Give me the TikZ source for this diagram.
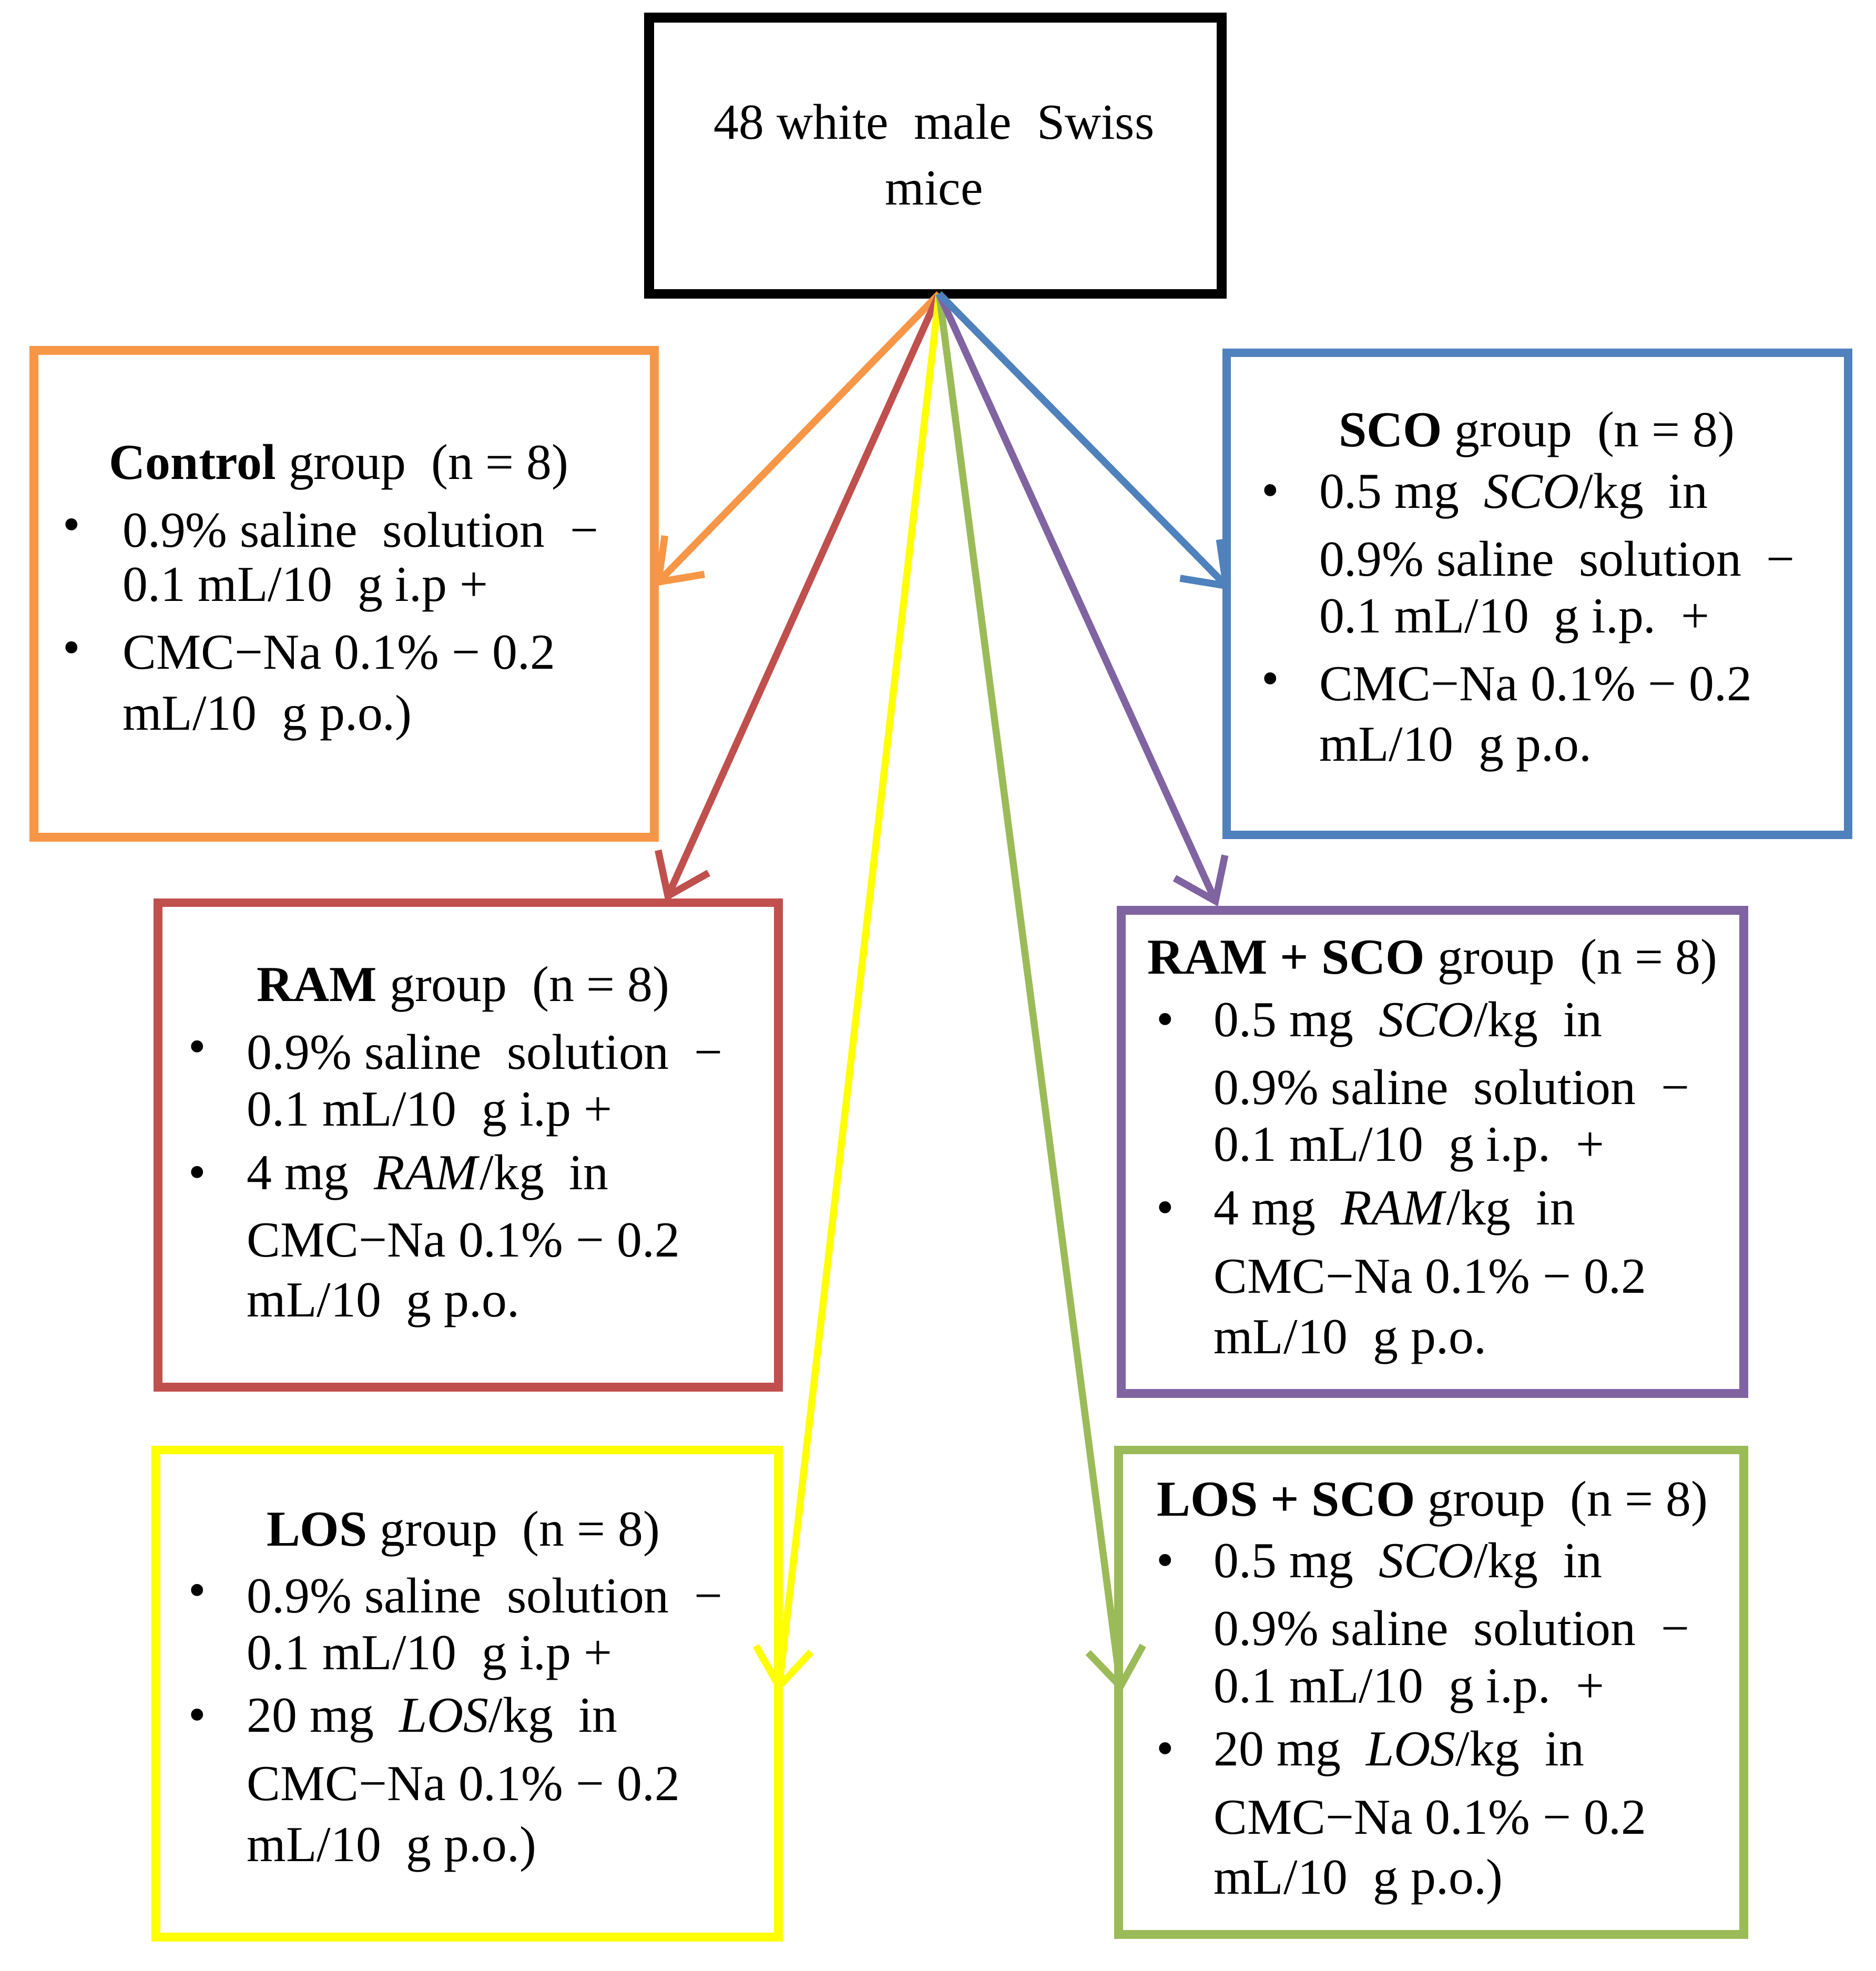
\documentclass[tikz,border=0pt]{standalone}
\usepackage{fontspec}
\setmainfont{Liberation Serif}
\usetikzlibrary{arrows.meta}
\definecolor{cOr}{HTML}{F79646}
\definecolor{cBl}{HTML}{4F81BD}
\definecolor{cRe}{HTML}{C0504D}
\definecolor{cPu}{HTML}{8064A2}
\definecolor{cYe}{HTML}{FFFF00}
\definecolor{cGr}{HTML}{9BBB59}
\tikzset{
 box/.style={draw, fill=white},
 conn/.style={line width=1.6pt, -{Straight Barb[length=3mm,width=4.4mm,line width=1.6pt]}},
 tx/.style={anchor=west, inner sep=0, font=\fontsize{11.4}{14}\selectfont},
 tt/.style={anchor=center, inner sep=0, font=\fontsize{11.4}{14}\selectfont},
 bu/.style={anchor=center, inner sep=0, font=\fontsize{11.4}{14}\selectfont},
}
\begin{document}
\begin{tikzpicture}[x=0.01cm,y=-0.01cm]
\useasboundingbox (0,0) rectangle (1494,1570);
% boxes
\draw[box,draw=black,line width=2.2pt] (517,14) rectangle (973,234);
\coordinate (top) at (748,234);
\draw[box,draw=cOr,line width=2pt] (27,279) rectangle (521,667);
\draw[box,draw=cBl,line width=2pt] (977,281) rectangle (1472,665);
\draw[box,draw=cRe,line width=2pt] (126,719) rectangle (620,1105);
\draw[box,draw=cPu,line width=2pt] (893,725) rectangle (1389,1110);
\draw[box,draw=cYe,line width=2pt] (124,1155) rectangle (620,1543);
\draw[box,draw=cGr,line width=2pt] (891,1155) rectangle (1389,1541);
\coordinate (eOr) at (521,467);
\coordinate (eRe) at (530,718);
\coordinate (eYe) at (620,1348);
\coordinate (eGr) at (893,1348);
\coordinate (ePu) at (970,722);
\coordinate (eBl) at (980,470);
\draw[conn,cOr] (top) -- (eOr);
\draw[conn,cRe] (top) -- (eRe);
\draw[conn,cYe] (top) -- (eYe);
\draw[conn,cGr] (top) -- (eGr);
\draw[conn,cPu] (top) -- (ePu);
\draw[conn,cBl] (top) -- (eBl);
% top text
\node[tt] (t1) at (744,97) {48 white\ \ male\ \ Swiss};
\node[tt] (t2) at (744,150) {mice};
% control
\node[tt] (a0) at (270,372) {\textbf{Control} group\ \ (n = 8)};
\node[bu] (ab1) at (57,422) {•}; \node[bu] (ab2) at (57,520) {•};
\node[tx] (a1) at (97,422) {0.9\% saline\ \ solution\ \ −};
\node[tx] (a2) at (97,470) {0.1 mL/10\ \ g i.p +};
\node[tx] (a3) at (97,520) {CMC−Na 0.1\% − 0.2};
\node[tx] (a4) at (97,572) {mL/10\ \ g p.o.)};
% SCO
\node[tt] (b0) at (1224,346) {\textbf{SCO} group\ \ (n = 8)};
\node[bu] (bb1) at (1012,395) {•}; \node[bu] (bb2) at (1012,545) {•};
\node[tx] (b1) at (1050,395) {0.5 mg\ \ \textit{SCO}/kg\ \ in};
\node[tx] (b2) at (1050,445) {0.9\% saline\ \ solution\ \ −};
\node[tx] (b3) at (1050,495) {0.1 mL/10\ \ g i.p.\ \ +};
\node[tx] (b4) at (1050,545) {CMC−Na 0.1\% − 0.2};
\node[tx] (b5) at (1050,597) {mL/10\ \ g p.o.};
% RAM
\node[tt] (c0) at (369,788) {\textbf{RAM} group\ \ (n = 8)};
\node[bu] (cb1) at (157,838) {•}; \node[bu] (cb2) at (157,938) {•};
\node[tx] (c1) at (196,838) {0.9\% saline\ \ solution\ \ −};
\node[tx] (c2) at (196,888) {0.1 mL/10\ \ g i.p +};
\node[tx] (c3) at (196,938) {4 mg\ \ \textit{RAM}/kg\ \ in};
\node[tx] (c4) at (196,988) {CMC−Na 0.1\% − 0.2};
\node[tx] (c5) at (196,1040) {mL/10\ \ g p.o.};
% RAM+SCO
\node[tt] (d0) at (1141,766) {\textbf{RAM + SCO} group\ \ (n = 8)};
\node[bu] (db1) at (928,816) {•}; \node[bu] (db2) at (928,966) {•};
\node[tx] (d1) at (966,816) {0.5 mg\ \ \textit{SCO}/kg\ \ in};
\node[tx] (d2) at (966,866) {0.9\% saline\ \ solution\ \ −};
\node[tx] (d3) at (966,916) {0.1 mL/10\ \ g i.p.\ \ +};
\node[tx] (d4) at (966,966) {4 mg\ \ \textit{RAM}/kg\ \ in};
\node[tx] (d5) at (966,1017) {CMC−Na 0.1\% − 0.2};
\node[tx] (d6) at (966,1069) {mL/10\ \ g p.o.};
% LOS
\node[tt] (e0) at (369,1222) {\textbf{LOS} group\ \ (n = 8)};
\node[bu] (eb1) at (157,1271) {•}; \node[bu] (eb2) at (157,1370) {•};
\node[tx] (e1) at (196,1271) {0.9\% saline\ \ solution\ \ −};
\node[tx] (e2) at (196,1321) {0.1 mL/10\ \ g i.p +};
\node[tx] (e3) at (196,1370) {20 mg\ \ \textit{LOS}/kg\ \ in};
\node[tx] (e4) at (196,1421) {CMC−Na 0.1\% − 0.2};
\node[tx] (e5) at (196,1473) {mL/10\ \ g p.o.)};
% LOS+SCO
\node[tt] (f0) at (1141,1198) {\textbf{LOS + SCO} group\ \ (n = 8)};
\node[bu] (fb1) at (928,1247) {•}; \node[bu] (fb2) at (928,1397) {•};
\node[tx] (f1) at (966,1247) {0.5 mg\ \ \textit{SCO}/kg\ \ in};
\node[tx] (f2) at (966,1297) {0.9\% saline\ \ solution\ \ −};
\node[tx] (f3) at (966,1347) {0.1 mL/10\ \ g i.p.\ \ +};
\node[tx] (f4) at (966,1397) {20 mg\ \ \textit{LOS}/kg\ \ in};
\node[tx] (f5) at (966,1448) {CMC−Na 0.1\% − 0.2};
\node[tx] (f6) at (966,1499) {mL/10\ \ g p.o.)};
\end{tikzpicture}
\end{document}
